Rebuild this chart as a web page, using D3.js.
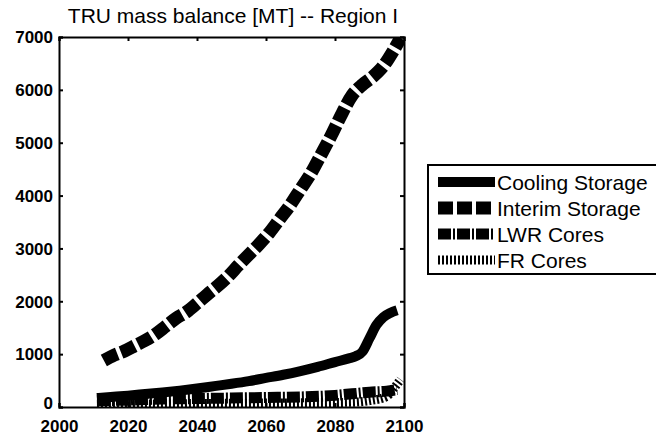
<!DOCTYPE html>
<html><head><meta charset="utf-8">
<script src="https://cdn.jsdelivr.net/npm/d3@7"></script>
<style>
body{margin:0;background:#fff;}
text{font-family:"Liberation Sans",Arial,sans-serif;fill:#000;}
</style></head>
<body><svg id="c" width="656" height="436"></svg>
<script>
const title = "TRU mass balance [MT] -- Region I";
const xTicks = [2000, 2020, 2040, 2060, 2080, 2100];
const yTicks = [0, 1000, 2000, 3000, 4000, 5000, 6000, 7000];
const seriesNames = ["Cooling Storage", "Interim Storage", "LWR Cores", "FR Cores"];

const coolingYears = [2011, 2015, 2020, 2025, 2030, 2035, 2040, 2045, 2050, 2055, 2060, 2065, 2070, 2075, 2080, 2084, 2086, 2088, 2090, 2092, 2094, 2096, 2098];
const coolingVals  = [170, 190, 215, 245, 275, 310, 350, 395, 440, 490, 550, 610, 680, 760, 850, 920, 960, 1050, 1300, 1550, 1700, 1780, 1830];

const interimYears = [2013, 2016, 2019, 2022, 2025, 2028, 2031, 2034, 2037, 2040, 2043, 2046, 2049, 2052, 2055, 2058, 2061, 2064, 2067, 2070, 2073, 2076, 2079, 2082, 2085, 2088, 2091, 2094, 2097, 2099];
const interimVals  = [880, 980, 1060, 1160, 1260, 1380, 1530, 1680, 1800, 1960, 2130, 2290, 2470, 2680, 2880, 3080, 3300, 3560, 3820, 4120, 4420, 4780, 5150, 5550, 5900, 6100, 6250, 6450, 6750, 6980];

const lwrYears = [2011, 2020, 2030, 2040, 2050, 2060, 2070, 2080, 2085, 2090, 2095, 2098];
const lwrVals  = [120, 130, 150, 160, 170, 180, 190, 220, 250, 280, 300, 330];

const frYears = [2011, 2030, 2050, 2070, 2085, 2090, 2095, 2097, 2099];
const frVals  = [50, 60, 70, 80, 90, 120, 200, 350, 520];

const svg = d3.select("#c");
const x = d3.scaleLinear().domain([2000, 2100]).range([59, 404]);
const y = d3.scaleLinear().domain([0, 7000]).range([407, 37]);

const styles = [
  {w: 10, dash: null},
  {w: 13, dash: "15,4"},
  {w: 11, dash: "13,2,2,2"},
  {w: 9, dash: "2,2"}
];
const data = [
  coolingYears.map((d, i) => [d, coolingVals[i]]),
  interimYears.map((d, i) => [d, interimVals[i]]),
  lwrYears.map((d, i) => [d, lwrVals[i]]),
  frYears.map((d, i) => [d, frVals[i]])
];

const g = svg.append("g");
svg.append("clipPath").attr("id", "pc").append("rect")
  .attr("x", 59).attr("y", 37).attr("width", 345).attr("height", 370);

const line = d3.line().x(d => x(d[0])).y(d => y(d[1])).curve(d3.curveMonotoneX);
[3, 2, 0, 1].forEach(i => {
  g.append("path").datum(data[i]).attr("d", line)
    .attr("fill", "none").attr("stroke", "#000")
    .attr("stroke-width", styles[i].w)
    .attr("stroke-dasharray", styles[i].dash)
    .attr("clip-path", "url(#pc)");
});

// axes
const axL = svg.append("g").attr("transform", "translate(59,0)")
  .call(d3.axisLeft(y).tickValues(yTicks).tickSize(-4).tickPadding(6).tickFormat(d3.format("d")));
const axR = svg.append("g").attr("transform", "translate(404,0)")
  .call(d3.axisRight(y).tickValues(yTicks).tickSize(-4).tickFormat(""));
const axB = svg.append("g").attr("transform", "translate(0,407)")
  .call(d3.axisBottom(x).tickValues(xTicks).tickSize(-4).tickPadding(13).tickFormat(d3.format("d")));
const axT = svg.append("g").attr("transform", "translate(0,37)")
  .call(d3.axisTop(x).tickValues(xTicks).tickSize(-4).tickFormat(""));
[axL, axR, axB, axT].forEach(a => {
  a.select(".domain").attr("stroke", "#000").attr("stroke-width", 2);
  a.selectAll(".tick line").attr("stroke", "#000").attr("stroke-width", 2);
  a.selectAll("text").style("font-size", "17px").style("font-weight", "bold")
    .style("font-family", "'Liberation Sans',Arial,sans-serif").attr("fill", "#000");
});
axL.selectAll(".tick text").attr("dy", "0.34em");
axL.selectAll(".tick").filter(d => d === 0).select("text").attr("dy", "0.1em");

svg.append("text").attr("x", 233).attr("y", 23).attr("text-anchor", "middle")
  .style("font-size", "21px").text(title);

// legend
const lg = svg.append("g");
lg.append("rect").attr("x", 428).attr("y", 165).attr("width", 240).attr("height", 109)
  .attr("fill", "#fff").attr("stroke", "#000").attr("stroke-width", 2);
seriesNames.forEach((n, i) => {
  const cy = 182 + i * 26;
  lg.append("line").attr("x1", 438).attr("x2", 495).attr("y1", cy).attr("y2", cy)
    .attr("stroke", "#000").attr("stroke-width", styles[i].w)
    .attr("stroke-dasharray", styles[i].dash);
  lg.append("text").attr("x", 497).attr("y", cy).attr("dy", "0.36em")
    .style("font-size", "21px").text(n);
});
</script></body></html>
